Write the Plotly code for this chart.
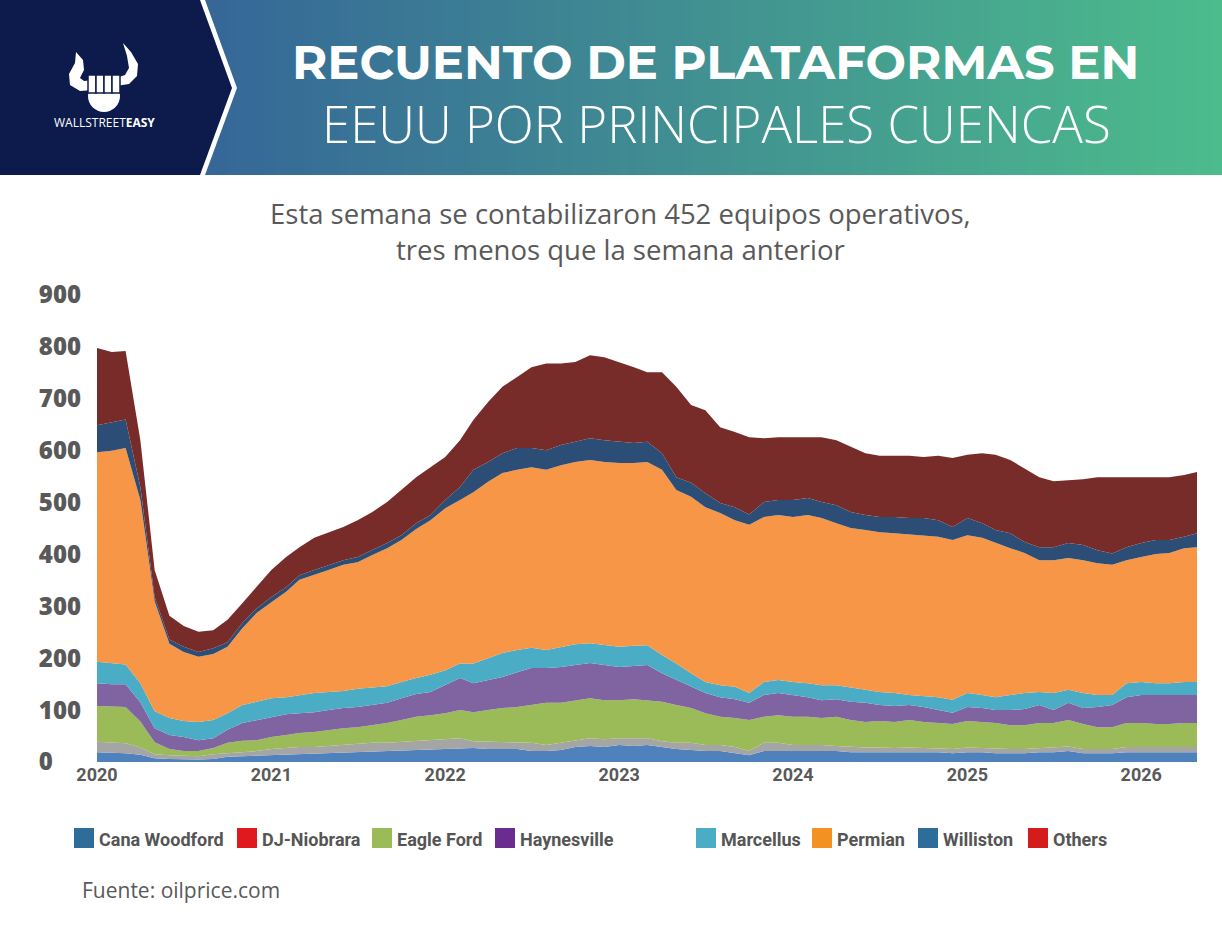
import pandas as pd
import plotly.graph_objects as go

# monthly readings (start of month) Jan 2020 .. Apr 2026, plus last week
dates = pd.date_range("2020-01-01", periods=76, freq="MS").tolist() + [pd.Timestamp("2026-04-28")]

cana_woodford = [19, 18, 17, 14, 7, 6, 5, 5, 6, 10,
                 11, 12, 13, 14, 15, 16, 17, 18, 19, 20,
                 21, 22, 22, 23, 24, 25, 27, 25, 25, 25,
                 21, 21, 23, 29, 31, 29, 33, 31, 33, 29,
                 25, 23, 21, 21, 17, 13, 21, 21, 21, 21,
                 21, 21, 19, 19, 19, 19, 19, 19, 19, 17,
                 19, 19, 17, 17, 17, 19, 19, 21, 17, 17,
                 17, 19, 19, 19, 19, 19, 19]
dj_niobrara = [20, 20, 19, 14, 8, 7, 7, 6, 9, 7,
               8, 9, 12, 13, 14, 13, 14, 15, 16, 17,
               16, 17, 18, 19, 20, 21, 13, 14, 14, 12,
               16, 12, 14, 13, 15, 15, 13, 15, 13, 11,
               12, 14, 12, 12, 12, 8, 16, 16, 12, 12,
               12, 10, 10, 9, 9, 8, 9, 8, 8, 8,
               9, 8, 8, 8, 8, 8, 9, 9, 8, 8,
               8, 10, 10, 10, 10, 10, 10]
eagle_ford = [69, 69, 70, 50, 23, 12, 9, 10, 12, 20,
              22, 21, 23, 25, 27, 29, 31, 32, 32, 34,
              38, 42, 47, 48, 50, 54, 56, 61, 65, 69,
              73, 81, 77, 76, 77, 75, 73, 75, 73, 76,
              73, 67, 61, 54, 56, 60, 50, 53, 54, 54,
              52, 56, 52, 49, 51, 50, 53, 50, 48, 48,
              51, 50, 50, 46, 46, 48, 47, 51, 48, 42,
              42, 46, 46, 44, 44, 46, 46]
haynesville = [44, 43, 44, 37, 27, 27, 27, 21, 19, 25,
               34, 39, 39, 40, 38, 38, 38, 39, 39, 39,
               39, 42, 44, 45, 54, 62, 56, 58, 60, 67,
               71, 67, 69, 69, 68, 68, 64, 64, 68, 55,
               48, 41, 39, 38, 36, 33, 42, 43, 42, 38,
               34, 34, 35, 37, 31, 31, 29, 29, 25, 22,
               27, 27, 25, 29, 31, 35, 25, 33, 31, 39,
               43, 50, 54, 56, 56, 54, 54]
marcellus = [41, 40, 38, 37, 33, 33, 31, 35, 35, 32,
             35, 35, 36, 33, 35, 37, 35, 33, 35, 33,
             32, 31, 31, 33, 29, 28, 38, 42, 46, 43,
             39, 35, 39, 40, 38, 38, 39, 39, 38, 35,
             32, 26, 21, 23, 24, 19, 25, 25, 25, 27,
             29, 27, 27, 25, 25, 25, 19, 21, 25, 25,
             27, 25, 25, 29, 31, 25, 33, 25, 29, 23,
             19, 27, 25, 23, 23, 25, 25]
permian = [404, 410, 417, 353, 212, 143, 133, 126, 127, 128,
           148, 171, 185, 203, 222, 227, 235, 243, 244, 256,
           266, 274, 287, 298, 312, 315, 330, 340, 347, 347,
           348, 347, 350, 351, 353, 353, 354, 352, 353, 357,
           334, 340, 337, 332, 321, 324, 318, 318, 318, 324,
           322, 312, 308, 308, 308, 308, 310, 310, 309, 308,
           304, 303, 297, 283, 270, 254, 256, 254, 256, 254,
           251, 237, 241, 249, 251, 258, 260]
williston = [52, 55, 55, 25, 8, 8, 10, 9, 11, 9,
             10, 9, 10, 9, 9, 10, 10, 9, 10, 9,
             10, 9, 11, 10, 16, 25, 43, 38, 38, 42,
             37, 38, 39, 39, 42, 42, 41, 39, 39, 32,
             25, 27, 27, 19, 25, 20, 29, 29, 33, 33,
             31, 35, 31, 29, 29, 31, 31, 33, 32, 25,
             33, 28, 25, 29, 21, 25, 25, 29, 29, 25,
             22, 25, 27, 27, 25, 22, 27]
others = [149, 135, 132, 90, 52, 46, 40, 39, 35, 43,
          38, 41, 52, 58, 54, 62, 63, 64, 71, 74,
          79, 87, 89, 92, 83, 90, 96, 116, 128, 137,
          156, 167, 157, 154, 160, 160, 154, 146, 134, 156,
          174, 150, 160, 146, 145, 149, 123, 121, 121, 117,
          125, 125, 125, 119, 118, 118, 120, 118, 124, 133,
          122, 135, 145, 141, 142, 135, 127, 121, 127, 141,
          147, 135, 127, 121, 121, 119, 118]

basins = ["Cana Woodford", "DJ-Niobrara", "Eagle Ford", "Haynesville",
          "Marcellus", "Permian", "Williston", "Others"]
series = [cana_woodford, dj_niobrara, eagle_ford, haynesville,
          marcellus, permian, williston, others]
year_ticks = ["2020", "2021", "2022", "2023", "2024", "2025", "2026"]
y_ticks = [0, 100, 200, 300, 400, 500, 600, 700, 800, 900]

area_colors = ["#4F81BD", "#A5A5A5", "#9BBB59", "#8064A2",
               "#4BACC6", "#F79646", "#2C4D75", "#772C2A"]
legend_colors = ["#2E6D9A", "#E0191F", "#9BBB59", "#6A2D8F",
                 "#4BACC6", "#F39122", "#2E6D9A", "#D41C1C"]

W, H = 1222, 939
L, R, T, B = 97, 25, 295, 177
PW, PH = W - L - R, H - T - B


def px(x):
    return (x - L) / PW


def py(y):
    return (H - B - y) / PH


fig = go.Figure()
for name, vals, col in zip(basins, series, area_colors):
    fig.add_trace(go.Scatter(x=dates, y=vals, name=name, stackgroup="one",
                             mode="lines", line=dict(width=0, color=col),
                             fillcolor=col, showlegend=False, hoverinfo="x+y+name"))

shapes = []
# header gradient (blue -> green)
c0, c1 = (54, 103, 152), (77, 188, 140)
n = 110
x0h = 200
for i in range(n):
    t = i / (n - 1)
    c = tuple(int(c0[k] + (c1[k] - c0[k]) * t) for k in range(3))
    xa = x0h + (W - x0h) * i / n
    xb = x0h + (W - x0h) * (i + 1) / n + 1
    shapes.append(dict(type="rect", xref="paper", yref="paper",
                       x0=px(xa), x1=px(xb), y0=py(175), y1=py(0),
                       fillcolor="rgb(%d,%d,%d)" % c, line=dict(width=0)))


def path(points):
    return "M " + " L ".join("%f,%f" % (px(a), py(b)) for a, b in points) + " Z"


shapes.append(dict(type="path", xref="paper", yref="paper",
                   path=path([(0, 0), (205, 0), (237, 88), (205, 175), (0, 175)]),
                   fillcolor="white", line=dict(width=0)))
shapes.append(dict(type="path", xref="paper", yref="paper",
                   path=path([(0, 0), (200, 0), (232, 88), (200, 175), (0, 175)]),
                   fillcolor="#0C1B4C", line=dict(width=0)))

# logo: horns + fist (rough)
white = dict(fillcolor="white", line=dict(width=0), xref="paper", yref="paper")
shapes.append(dict(type="path",
                   path=path([(76, 52), (83, 60), (84, 70), (80, 78), (84, 81), (94, 80),
                              (94, 90), (80, 91), (70, 85), (69, 74), (75, 63)]), **white))
shapes.append(dict(type="path",
                   path=path([(123, 43), (131, 52), (138, 64), (137, 76), (129, 84), (116, 86),
                              (116, 78), (125, 75), (129, 68), (127, 56)]), **white))
shapes.append(dict(type="circle", x0=px(88), x1=px(120), y0=py(112), y1=py(80), **white))
for fx in [88, 96, 104, 112]:
    shapes.append(dict(type="rect", xref="paper", yref="paper",
                       x0=px(fx), x1=px(fx + 8), y0=py(93), y1=py(75),
                       fillcolor="white", line=dict(color="#0C1B4C", width=1.5)))

# legend swatches
legend_x = [74, 237, 372, 495, 696, 812, 918, 1028]
for lx, col in zip(legend_x, legend_colors):
    shapes.append(dict(type="rect", xref="paper", yref="paper",
                       x0=px(lx), x1=px(lx + 20), y0=py(848), y1=py(828),
                       fillcolor=col, line=dict(width=0)))

annotations = [
    dict(text="<b>RECUENTO DE PLATAFORMAS EN</b>", x=px(715), y=py(62),
         font=dict(family="Montserrat, Open Sans", size=48, color="white")),
    dict(text="EEUU POR PRINCIPALES CUENCAS", x=px(716), y=py(123),
         font=dict(family="Open Sans", size=51, color="white", weight=300)),
    dict(text="WALLSTREET<b>EASY</b>", x=px(104), y=py(122),
         font=dict(family="Open Sans", size=12, color="white")),
    dict(text="Esta semana se contabilizaron 452 equipos operativos,<br>tres menos que la semana anterior",
         x=px(620), y=py(231), font=dict(family="Open Sans", size=27.5, color="#595959")),
    dict(text="Fuente: oilprice.com", x=px(80), y=py(890), xanchor="left",
         font=dict(family="Open Sans", size=21, color="#595959")),
]
for lx, name in zip(legend_x, basins):
    annotations.append(dict(text="<b>" + name + "</b>", x=px(lx + 23), y=py(839), xanchor="left",
                            font=dict(family="Roboto", size=18, color="#555555")))
for a in annotations:
    a.setdefault("xref", "paper")
    a.setdefault("yref", "paper")
    a.setdefault("showarrow", False)
    a.setdefault("xanchor", "center")
    a.setdefault("yanchor", "middle")
    a.setdefault("align", "center")

fig.update_layout(
    width=W, height=H,
    margin=dict(l=L, r=R, t=T, b=B),
    plot_bgcolor="white", paper_bgcolor="white",
    showlegend=False,
    shapes=shapes, annotations=annotations,
    xaxis=dict(type="date", range=[dates[0], dates[-1]],
               tickvals=[y + "-01-01" for y in year_ticks], ticktext=year_ticks,
               showgrid=False, zeroline=False, showline=False, ticks="",
               tickfont=dict(family="Roboto", size=18, color="#595959", weight="bold")),
    yaxis=dict(range=[0, 900], tickvals=y_ticks,
               ticktext=[str(v).ljust(3, "\u2007") for v in y_ticks],
               showgrid=False, zeroline=False,
               showline=False, ticks="", ticklabelstandoff=15,
               tickfont=dict(family="Open Sans", size=24, color="#595959", weight=800)),
)

fig.write_html("out.html", config={"displayModeBar": False},
               post_script="document.body.style.margin='0px';")
